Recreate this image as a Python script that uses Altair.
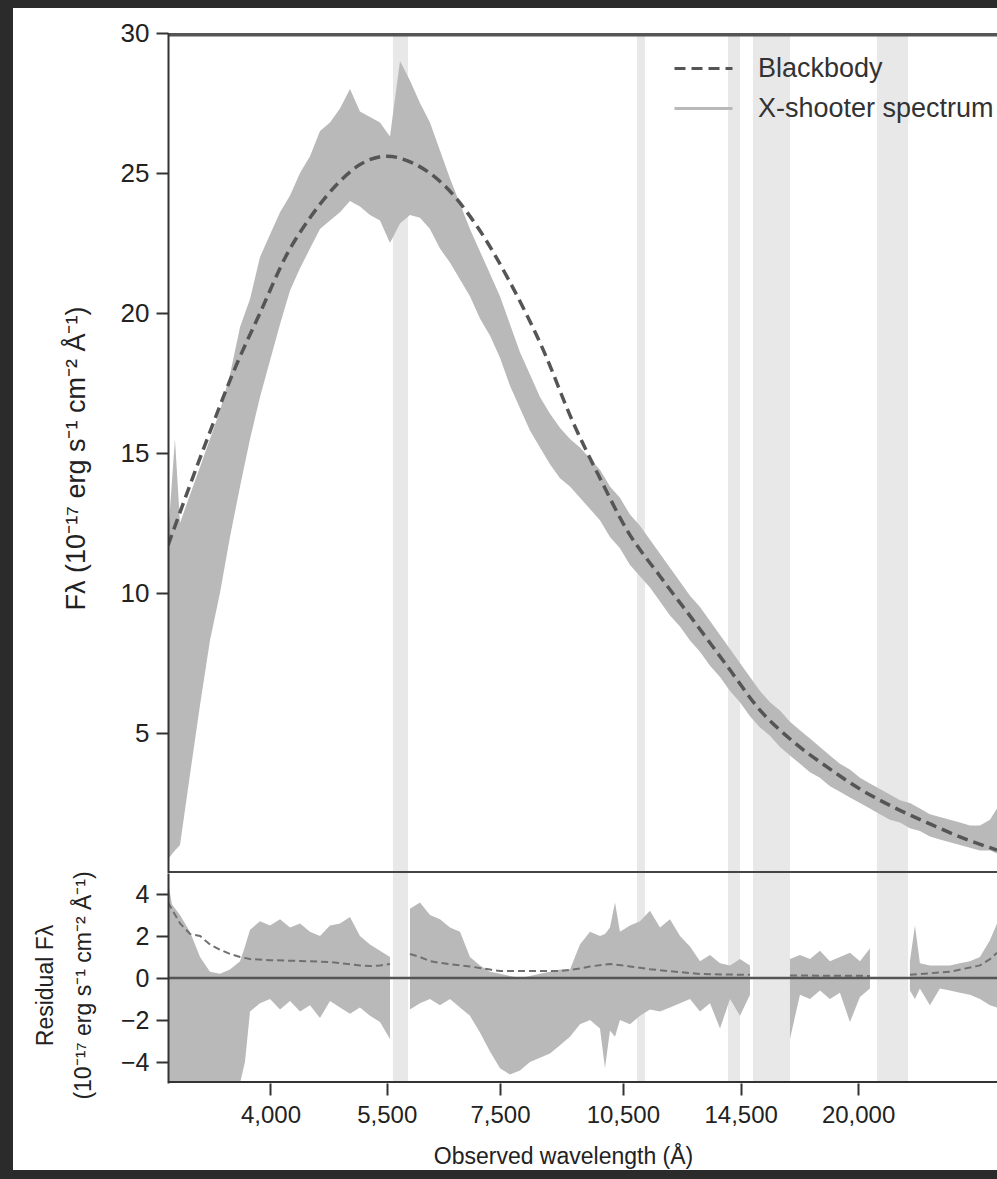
import altair as alt
import pandas as pd

FONT = "Liberation Sans"
INK = "#222222"

# ---------------- data ----------------
# Blackbody model (Å, 1e-17 erg/s/cm2/Å)
bb_wavelength = [3021, 3325, 3650, 3887, 4185, 4457, 4800, 5111, 5504, 5909, 6417, 7041,
                 7708, 8438, 9160, 9863, 10619, 11626, 12724, 13966, 15286, 16730, 18365,
                 20103, 22003, 24153, 26436, 29260]
bb_flux = [11.7, 15.1, 18.2, 20.0, 22.1, 23.4, 24.6, 25.3, 25.6, 25.35, 24.6, 23.1,
           21.1, 18.7, 16.1, 14.1, 12.25, 10.6, 9.04, 7.4, 5.82, 4.7, 3.79,
           3.0, 2.36, 1.8, 1.29, 0.82]

# X-shooter spectrum envelope (low / high)
spec_wavelength = [3021, 3079, 3122, 3208, 3298, 3389, 3483, 3580, 3680, 3782, 3887, 3995,
                   4106, 4220, 4337, 4457, 4581, 4708, 4839, 4973, 5111, 5253, 5399, 5549,
                   5703, 5861, 6024, 6191, 6363, 6540, 6722, 6908, 7100, 7297, 7500, 7708,
                   7922, 8142, 8368, 8601, 8839, 9085, 9337, 9597, 9863, 10137, 10418, 10708,
                   11005, 11311, 11625, 11948, 12280, 12621, 12971, 13332, 13702, 14083,
                   14472, 14874, 15286, 15711, 16147, 16596, 17056, 17530, 18016, 18516,
                   19030, 19559, 20102, 20660, 21233, 21822, 22428, 23051, 23690, 24349,
                   25024, 25720, 26435, 27170, 27925, 28700, 29260]
spec_low = [0.5, 0.8, 1.0, 3.5, 6.0, 8.3, 10.0, 12.0, 13.8, 15.5, 17.0, 18.3,
            19.6, 20.8, 21.6, 22.3, 23.0, 23.3, 23.6, 24.0, 23.8, 23.5, 23.3, 22.5,
            23.2, 23.5, 23.4, 23.0, 22.3, 21.8, 21.2, 20.6, 19.8, 19.2, 18.4, 17.4,
            16.6, 15.8, 15.2, 14.6, 14.1, 13.8, 13.4, 13.0, 12.6, 12.0, 11.6, 11.0,
            10.6, 10.2, 9.7, 9.2, 8.8, 8.3, 7.9, 7.4, 7.0, 6.5,
            6.1, 5.6, 5.2, 4.9, 4.5, 4.2, 3.9, 3.6, 3.4, 3.1,
            2.9, 2.7, 2.5, 2.3, 2.1, 1.9, 1.8, 1.6, 1.5, 1.3,
            1.2, 1.1, 1.0, 0.9, 0.8, 0.8, 0.7]
spec_high = [12.0, 15.5, 12.5, 13.5, 14.5, 15.5, 16.5, 17.8, 19.5, 20.5, 22.0, 22.8,
             23.6, 24.2, 25.0, 25.6, 26.5, 26.8, 27.3, 28.0, 27.2, 27.0, 26.8, 26.3,
             29.0, 28.3, 27.5, 26.8, 25.8, 24.8, 23.9, 23.0, 22.2, 21.4, 20.6, 19.6,
             18.6, 17.8, 17.0, 16.4, 15.9, 15.5, 15.2, 14.8, 14.4, 13.8, 13.4, 12.8,
             12.4, 11.9, 11.4, 10.9, 10.4, 9.9, 9.5, 9.0, 8.5, 8.0,
             7.5, 7.0, 6.5, 6.1, 5.8, 5.4, 5.1, 4.8, 4.5, 4.2,
             3.9, 3.7, 3.4, 3.2, 3.0, 2.8, 2.6, 2.5, 2.3, 2.1,
             2.0, 1.9, 1.8, 1.7, 1.7, 1.9, 2.3]

# Residual envelope, split into segments by the masked regions
res_wavelength = [3021, 3054, 3122, 3208, 3298, 3389, 3483, 3580, 3680, 3730, 3782, 3887,
                  3995, 4106, 4220, 4337, 4457, 4581, 4708, 4839, 4973, 5111, 5253, 5399, 5549,
                  5861, 6024, 6191, 6363, 6540, 6722, 6908, 7100, 7297, 7500, 7708, 7922,
                  8142, 8368, 8601, 8839, 9085, 9337, 9597, 9863, 9999, 10137, 10277, 10418,
                  10708, 11005, 11311, 11625, 11948, 12280, 12621, 12971, 13332, 13702,
                  14083, 14472, 14874,
                  16596, 17056, 17530, 18016, 18516, 19030, 19559, 20102, 20660,
                  23051, 23370, 23690, 24349, 25024, 25720, 26435, 27170, 27925, 28700, 29260]
res_low = [-5, -5, -5, -5, -5, -5, -5, -5, -5, -4.0, -1.6, -1.2,
           -1.0, -1.5, -1.1, -1.6, -1.3, -1.9, -1.1, -1.4, -1.7, -1.4, -1.8, -2.1, -2.9,
           -1.5, -1.2, -1.0, -1.3, -1.0, -1.4, -1.8, -2.6, -3.5, -4.3, -4.6, -4.4,
           -4.0, -3.8, -3.6, -3.2, -2.8, -2.2, -2.0, -2.4, -4.3, -2.5, -2.8, -2.0,
           -2.2, -1.8, -1.5, -1.6, -1.4, -1.2, -1.0, -1.6, -1.2, -2.4,
           -1.0, -1.8, -0.8,
           -2.9, -0.8, -1.0, -0.6, -1.0, -0.7, -2.1, -0.9, -0.5,
           -0.6, -1.0, -0.5, -1.3, -0.5, -0.6, -0.7, -0.8, -1.0, -1.3, -1.4]
res_high = [4.6, 3.5, 3.0, 2.2, 1.0, 0.3, 0.2, 0.4, 0.8, 1.5, 2.3, 2.7,
            2.5, 2.8, 2.4, 2.6, 2.2, 2.0, 2.5, 2.6, 2.9, 2.0, 1.6, 1.3, 1.0,
            3.3, 3.6, 3.0, 2.8, 2.4, 2.2, 1.0, 0.6, 0.3, 0.2, 0.1, 0.0,
            0.1, 0.2, 0.3, 0.4, 0.4, 1.6, 2.2, 2.0, 2.1, 2.4, 3.6, 2.2,
            2.5, 2.7, 3.2, 2.4, 2.8, 2.0, 1.5, 0.8, 1.1, 0.7,
            0.6, 0.9, 0.6,
            0.9, 1.1, 0.9, 1.3, 0.8, 1.0, 1.2, 0.8, 1.4,
            0.8, 2.5, 0.7, 0.6, 0.6, 0.6, 0.7, 0.8, 1.0, 1.8, 2.6]
res_segment = [1] * 25 + [2] * 37 + [3] * 9 + [4] * 11

# Residual model curve (dashed)
resmod_wavelength = [3021, 3122, 3208, 3298, 3389, 3483, 3580, 3680, 3782, 3995, 4337, 4708,
                     5111, 5253, 5399, 5549,
                     5861, 6024, 6191, 6540, 6908, 7297, 7500, 8142, 8839, 9337, 9597,
                     10137, 10708, 11311, 11948, 12971, 14874,
                     16596, 20660,
                     23051, 25720, 27925, 28700, 29260]
resmod_value = [3.6, 2.6, 2.1, 2.0, 1.6, 1.35, 1.15, 1.0, 0.9, 0.85, 0.81, 0.76,
                0.6, 0.57, 0.6, 0.67,
                1.14, 1.0, 0.8, 0.65, 0.55, 0.4, 0.33, 0.33, 0.33, 0.45, 0.55,
                0.67, 0.55, 0.42, 0.32, 0.19, 0.15,
                0.12, 0.1,
                0.15, 0.3, 0.6, 0.9, 1.2]
resmod_segment = [1] * 16 + [2] * 17 + [3] * 2 + [4] * 5

# Masked (grey-shaded) wavelength regions
band_start = [5594, 10914, 14004, 14997, 21058]
band_end = [5829, 11156, 14472, 16596, 22931]

x_ticks = [4000, 5500, 7500, 10500, 14500, 20000]
top_y_ticks = [5, 10, 15, 20, 25, 30]
bottom_y_ticks = [-4, -2, 0, 2, 4]
series_names = ["Blackbody", "X-shooter spectrum"]

# ---------------- tables ----------------
spec = pd.DataFrame({"wl": spec_wavelength, "lo": spec_low, "hi": spec_high})
spec["mid"] = (spec["lo"] + spec["hi"]) / 2
spec["series"] = series_names[1]
bb = pd.DataFrame({"wl": bb_wavelength, "flux": bb_flux, "series": series_names[0]})
res = pd.DataFrame({"wl": res_wavelength, "lo": res_low, "hi": res_high, "seg": res_segment})
resmod = pd.DataFrame({"wl": resmod_wavelength, "v": resmod_value, "seg": resmod_segment})
bands = pd.DataFrame({"start": band_start, "end": band_end})
one = pd.DataFrame({"k": [0]})

W, H1, H2 = 829, 840, 210
SPEC_GREY = "#b9b9b9"
BAND_GREY = "#e8e8e8"

xs = alt.Scale(type="log", domain=[3021, 29260], nice=False)
ys_top = alt.Scale(domain=[0, 30], nice=False)
ys_bot = alt.Scale(domain=[-5, 5], nice=False)

YT_TOP = "Fλ (10⁻¹⁷ erg s⁻¹ cm⁻² Å⁻¹)"
YT_BOT = ["Residual Fλ", "(10⁻¹⁷ erg s⁻¹ cm⁻² Å⁻¹)"]
XT = "Observed wavelength (Å)"

AX = dict(zindex=2, labelFont=FONT, titleFont=FONT, labelColor=INK, titleColor=INK,
          domainColor="#333333", tickColor="#333333", domainWidth=2, tickWidth=2,
          tickSize=12, grid=False, titleFontWeight="normal")

y_axis_top = alt.Axis(values=top_y_ticks, labelFontSize=26, labelPadding=7, titleFontSize=27,
                      titleX=-92, titleY=425, titleAngle=-90, titleAlign="center",
                      titleBaseline="middle", **AX)
y_axis_bot = alt.Axis(values=bottom_y_ticks, labelFontSize=25, labelPadding=7, titleFontSize=23,
                      titleX=-123, titleY=112, titleAngle=-90, titleAlign="center",
                      titleBaseline="middle", titleLineHeight=38, **AX)
x_axis_bot = alt.Axis(values=x_ticks, format=",d", labelFontSize=24, labelPadding=8,
                      titleFontSize=23, titleX=395, titleY=73, titleBaseline="middle",
                      labelOverlap=False, domain=False, **AX)

leg = alt.Legend(title=None, orient="none", legendX=505, legendY=22, direction="vertical",
                 labelFont=FONT, labelFontSize=27, labelColor="#333333", labelLimit=0,
                 symbolType="stroke", symbolSize=3364, symbolStrokeWidth=3, labelOffset=24,
                 rowPadding=12, clipHeight=27, padding=0, zindex=3)
cenc = alt.Color("series:N", scale=alt.Scale(domain=series_names, range=["#555555", SPEC_GREY]),
                 legend=leg)
denc = alt.StrokeDash("series:N", scale=alt.Scale(domain=series_names, range=[[11, 6], [1, 0]]),
                      legend=leg)

def xq(field, axis=None, title=None):
    return alt.X(field, scale=xs, axis=axis, title=title)

# ---------------- top panel ----------------
top_bg = alt.Chart(one).mark_rect(fill="white").encode(
    x=alt.value(-155), x2=alt.value(W), y=alt.value(-25), y2=alt.value(H1))
top_bands = alt.Chart(bands).mark_rect(color=BAND_GREY, clip=True).encode(
    x=xq("start:Q"), x2="end:Q")
top_area = alt.Chart(spec).mark_area(color=SPEC_GREY, opacity=1, clip=True).encode(
    x=xq("wl:Q"), y=alt.Y("lo:Q", scale=ys_top, axis=y_axis_top, title=YT_TOP), y2="hi:Q")
top_mid = alt.Chart(spec).mark_line(strokeWidth=3, clip=True).encode(
    x=xq("wl:Q"), y=alt.Y("mid:Q", scale=ys_top, axis=y_axis_top, title=YT_TOP),
    color=cenc, strokeDash=denc)
top_bb = alt.Chart(bb).mark_line(strokeWidth=3.5, interpolate="monotone", clip=True).encode(
    x=xq("wl:Q"), y=alt.Y("flux:Q", scale=ys_top, axis=y_axis_top, title=YT_TOP),
    color=cenc, strokeDash=denc)
# frame lines: drawn twice as wide and clipped to the panel, so half of each shows inside
top_border = alt.Chart(one).mark_rule(color="#555555", strokeWidth=7, clip=True).encode(
    y=alt.Y(datum=30, scale=ys_top, axis=y_axis_top, title=YT_TOP))
top_base = alt.Chart(one).mark_rule(color="#444444", strokeWidth=4, clip=True).encode(
    y=alt.Y(datum=0, scale=ys_top, axis=y_axis_top, title=YT_TOP))

top = alt.layer(top_bg, top_bands, top_area, top_mid, top_bb, top_border, top_base).properties(
    width=W, height=H1)

# ---------------- bottom panel ----------------
bot_bg = alt.Chart(one).mark_rect(fill="white").encode(
    x=alt.value(-155), x2=alt.value(W), y=alt.value(0), y2=alt.value(297))
bot_bands = alt.Chart(bands).mark_rect(color=BAND_GREY, clip=True).encode(
    x=xq("start:Q", x_axis_bot, XT), x2="end:Q")
bot_area = alt.Chart(res).mark_area(color=SPEC_GREY, opacity=1, clip=True).encode(
    x=xq("wl:Q", x_axis_bot, XT),
    y=alt.Y("lo:Q", scale=ys_bot, axis=y_axis_bot, title=YT_BOT),
    y2="hi:Q", detail="seg:N")
bot_mod = alt.Chart(resmod).mark_line(strokeWidth=2, strokeDash=[7, 4], color="#707070",
                                      clip=True).encode(
    x=xq("wl:Q", x_axis_bot, XT),
    y=alt.Y("v:Q", scale=ys_bot, axis=y_axis_bot, title=YT_BOT),
    detail="seg:N")
bot_zero = alt.Chart(one).mark_rule(color="#555555", strokeWidth=2.5, clip=True).encode(
    y=alt.Y(datum=0, scale=ys_bot, axis=y_axis_bot, title=YT_BOT))
bot_axisline = alt.Chart(one).mark_rule(color="#333333", strokeWidth=4, clip=True).encode(
    y=alt.Y(datum=-5, scale=ys_bot, axis=y_axis_bot, title=YT_BOT))

bottom = alt.layer(bot_bg, bot_bands, bot_area, bot_mod, bot_zero, bot_axisline).properties(
    width=W, height=H2)

chart = alt.vconcat(top, bottom, spacing=0, bounds="flush").properties(
    background="#2b2b2b",
    padding={"left": 13, "top": 8, "right": 0, "bottom": 9},
).configure_view(stroke=None)

chart.save("out.html", embed_options={"renderer": "svg", "actions": False})
